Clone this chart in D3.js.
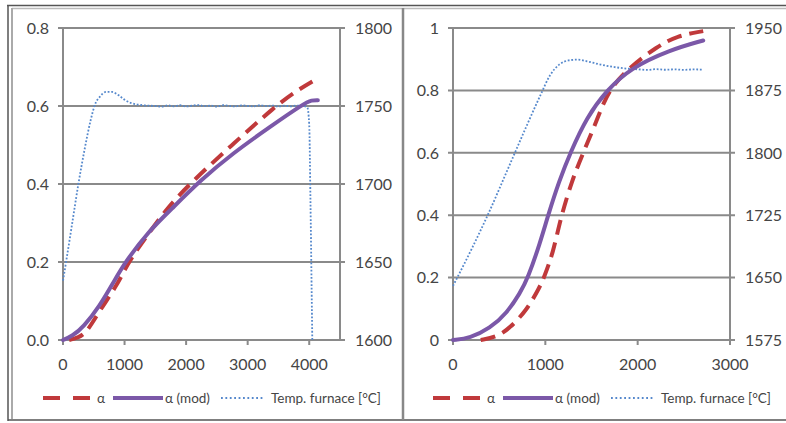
<!DOCTYPE html>
<html>
<head>
<meta charset="utf-8">
<script src="https://cdn.jsdelivr.net/npm/d3@7.9.0/dist/d3.min.js"></script>
<style>
  html, body { margin: 0; padding: 0; background: #fff; }
  svg text { font-family: Lato, "Open Sans", sans-serif; fill: #454545; }
</style>
</head>
<body>
<svg id="chart" width="786" height="423"></svg>
<script>
// ---- left panel data: [time, value]
const leftAlpha = [[100,0],[250,0.006],[390,0.02],[600,0.077],[880,0.14],[1060,0.2],[1400,0.275],[1700,0.34],[2120,0.41],[2780,0.505],[3430,0.597],[3800,0.64],[4130,0.67]];
const leftAlphaMod = [[0,0],[150,0.01],[330,0.033],[600,0.088],[820,0.148],[1010,0.2],[1400,0.28],[1745,0.333],[2235,0.41],[2770,0.48],[3330,0.543],[3920,0.607],[4040,0.615],[4140,0.615]];
const leftTemp = [[0,1638],[50,1650],[150,1675],[250,1700],[350,1722],[450,1741],[520,1751],[600,1756],[700,1759],[800,1759],[900,1757],[1000,1754],[1100,1752],[1300,1750.5],[1500,1750],
  [1600,1749.6],[1700,1750.4],[1800,1749.8],[1900,1750.5],[2000,1749.7],[2100,1750.2],[2200,1750.6],[2300,1749.9],[2400,1750.3],[2500,1749.6],[2600,1750.5],[2700,1750.1],
  [2800,1749.7],[2900,1750.4],[3000,1750],[3100,1749.8],[3200,1750.5],[3300,1749.9],[3400,1750.3],[3500,1749.7],[3600,1750.2],[3700,1749.8],[3800,1750.3],[3900,1750],
  [3970,1749],[4000,1738],[4020,1690],[4040,1630],[4050,1600]];
const leftAlphaTicks = [0, 0.2, 0.4, 0.6, 0.8];
const leftTempTicks = [1600, 1650, 1700, 1750, 1800];
const leftTimeTicks = [0, 1000, 2000, 3000, 4000];

// ---- right panel data
const rightAlpha = [[300,0],[475,0.01],[615,0.038],[800,0.096],[940,0.17],[985,0.2],[1085,0.28],[1160,0.385],[1290,0.513],[1410,0.6],[1560,0.705],[1680,0.8],[1915,0.875],[2210,0.94],[2425,0.975],[2710,0.99]];
const rightAlphaMod = [[0,0],[184,0.006],[400,0.037],[585,0.087],[726,0.15],[813,0.2],[942,0.31],[1030,0.4],[1150,0.51],[1270,0.6],[1450,0.715],[1665,0.8],[1915,0.87],[2350,0.93],[2710,0.96]];
const rightTemp = [[0,1640],[200,1684],[400,1731],[600,1782],[800,1833],[950,1870],[1050,1893],[1150,1906],[1250,1911],[1350,1912],[1450,1910],[1600,1906],[1750,1903],[1900,1901],
  [2000,1900.4],[2100,1899.6],[2200,1900.5],[2300,1899.8],[2400,1900.3],[2500,1899.7],[2600,1900.2],[2710,1900]];
const rightAlphaTicks = [0, 0.2, 0.4, 0.6, 0.8, 1];
const rightTempTicks = [1575, 1650, 1725, 1800, 1875, 1950];
const rightTimeTicks = [0, 1000, 2000, 3000];

const legendLabels = ['α', 'α (mod)', 'Temp. furnace [°C]'];

const RED = '#c0393b', PURPLE = '#7b58a8', BLUE = '#5588cc', GRID = '#8a8a8a';

const svg = d3.select('#chart');

function drawPanel(dx, cfg){
  const g = svg.append('g').attr('transform', `translate(${dx},0)`);
  const x  = d3.scaleLinear().domain(cfg.xDomain).range([63, 340]);
  const ya = d3.scaleLinear().domain(cfg.aDomain).range([340, 28]);
  const yt = d3.scaleLinear().domain(cfg.tDomain).range([340, 28]);

  // gridlines
  g.selectAll('.grid').data(cfg.aTicks).enter().append('line')
    .attr('x1', 58).attr('x2', 345)
    .attr('y1', d => ya(d)).attr('y2', d => ya(d))
    .attr('stroke', GRID).attr('stroke-width', 2);
  // vertical axis lines
  [63, 340].forEach(px => g.append('line')
    .attr('x1', px).attr('x2', px).attr('y1', 28).attr('y2', 340)
    .attr('stroke', GRID).attr('stroke-width', 2));
  // x tick marks
  g.selectAll('.xt').data(cfg.xTicks).enter().append('line')
    .attr('x1', d => x(d)).attr('x2', d => x(d)).attr('y1', 340).attr('y2', 345)
    .attr('stroke', GRID).attr('stroke-width', 2);

  // tick labels
  g.selectAll('.al').data(cfg.aTicks).enter().append('text')
    .attr('x', 49).attr('y', d => ya(d)).attr('dy', '0.36em')
    .attr('text-anchor', 'end').style('font-size', '16px')
    .text(cfg.aFmt);
  g.selectAll('.tl').data(cfg.tTicks).enter().append('text')
    .attr('x', 355).attr('y', d => yt(d)).attr('dy', '0.36em')
    .style('font-size', '16px').text(d => d);
  g.selectAll('.xl').data(cfg.xTicks).enter().append('text')
    .attr('x', d => x(d)).attr('y', 364).attr('dy', '0.36em')
    .attr('text-anchor', 'middle').style('font-size', '16px').text(d => d);

  const tline = d3.line().x(d => x(d[0])).y(d => yt(d[1])).curve(d3.curveMonotoneX);
  const aline = d3.line().x(d => x(d[0])).y(d => ya(d[1])).curve(d3.curveBasis);

  g.append('path').datum(cfg.temp).attr('d', tline)
    .attr('fill', 'none').attr('stroke', BLUE).attr('stroke-width', 1.8)
    .attr('stroke-dasharray', '1.8,1.8');
  g.append('path').datum(cfg.alpha).attr('d', aline)
    .attr('fill', 'none').attr('stroke', RED).attr('stroke-width', 4)
    .attr('stroke-dasharray', '15,8');
  g.append('path').datum(cfg.alphaMod).attr('d', aline)
    .attr('fill', 'none').attr('stroke', PURPLE).attr('stroke-width', 4)
    .attr('stroke-linecap', 'round');

  // legend
  const ly = 398;
  g.append('line').attr('x1', 43).attr('x2', 90).attr('y1', ly).attr('y2', ly)
    .attr('stroke', RED).attr('stroke-width', 4).attr('stroke-dasharray', '17,13');
  g.append('line').attr('x1', 113).attr('x2', 163).attr('y1', ly).attr('y2', ly)
    .attr('stroke', PURPLE).attr('stroke-width', 4);
  g.append('line').attr('x1', 221).attr('x2', 264).attr('y1', ly).attr('y2', ly)
    .attr('stroke', BLUE).attr('stroke-width', 1.8).attr('stroke-dasharray', '1.8,2.6');
  [[97, 0], [165, 1], [271, 2]].forEach(([lx, i]) => g.append('text')
    .attr('x', lx).attr('y', ly).attr('dy', '0.36em').style('font-size', '13.5px')
    .text(legendLabels[i]));
}

// frame
svg.append('line').attr('x1', 7).attr('x2', 786).attr('y1', 5.5).attr('y2', 5.5).attr('stroke', '#555').attr('stroke-width', 1.5);
svg.append('line').attr('x1', 12).attr('x2', 786).attr('y1', 8.5).attr('y2', 8.5).attr('stroke', '#bbb').attr('stroke-width', 1.5);
svg.append('line').attr('x1', 8).attr('x2', 8).attr('y1', 5).attr('y2', 421).attr('stroke', '#555').attr('stroke-width', 1.5);
svg.append('line').attr('x1', 12).attr('x2', 12).attr('y1', 8).attr('y2', 419).attr('stroke', '#aaa').attr('stroke-width', 2);
svg.append('line').attr('x1', 8).attr('x2', 786).attr('y1', 420).attr('y2', 420).attr('stroke', '#555').attr('stroke-width', 1.5);
svg.append('line').attr('x1', 403).attr('x2', 403).attr('y1', 8).attr('y2', 420).attr('stroke', '#888').attr('stroke-width', 2.5);

drawPanel(0, {
  xDomain: [0, 4500], aDomain: [0, 0.8], tDomain: [1600, 1800],
  aTicks: leftAlphaTicks, tTicks: leftTempTicks, xTicks: leftTimeTicks,
  aFmt: d3.format('.1f'),
  alpha: leftAlpha, alphaMod: leftAlphaMod, temp: leftTemp
});
drawPanel(390, {
  xDomain: [0, 3000], aDomain: [0, 1], tDomain: [1575, 1950],
  aTicks: rightAlphaTicks, tTicks: rightTempTicks, xTicks: rightTimeTicks,
  aFmt: d => d3.format('~g')(d),
  alpha: rightAlpha, alphaMod: rightAlphaMod, temp: rightTemp
});
</script>
</body>
</html>
